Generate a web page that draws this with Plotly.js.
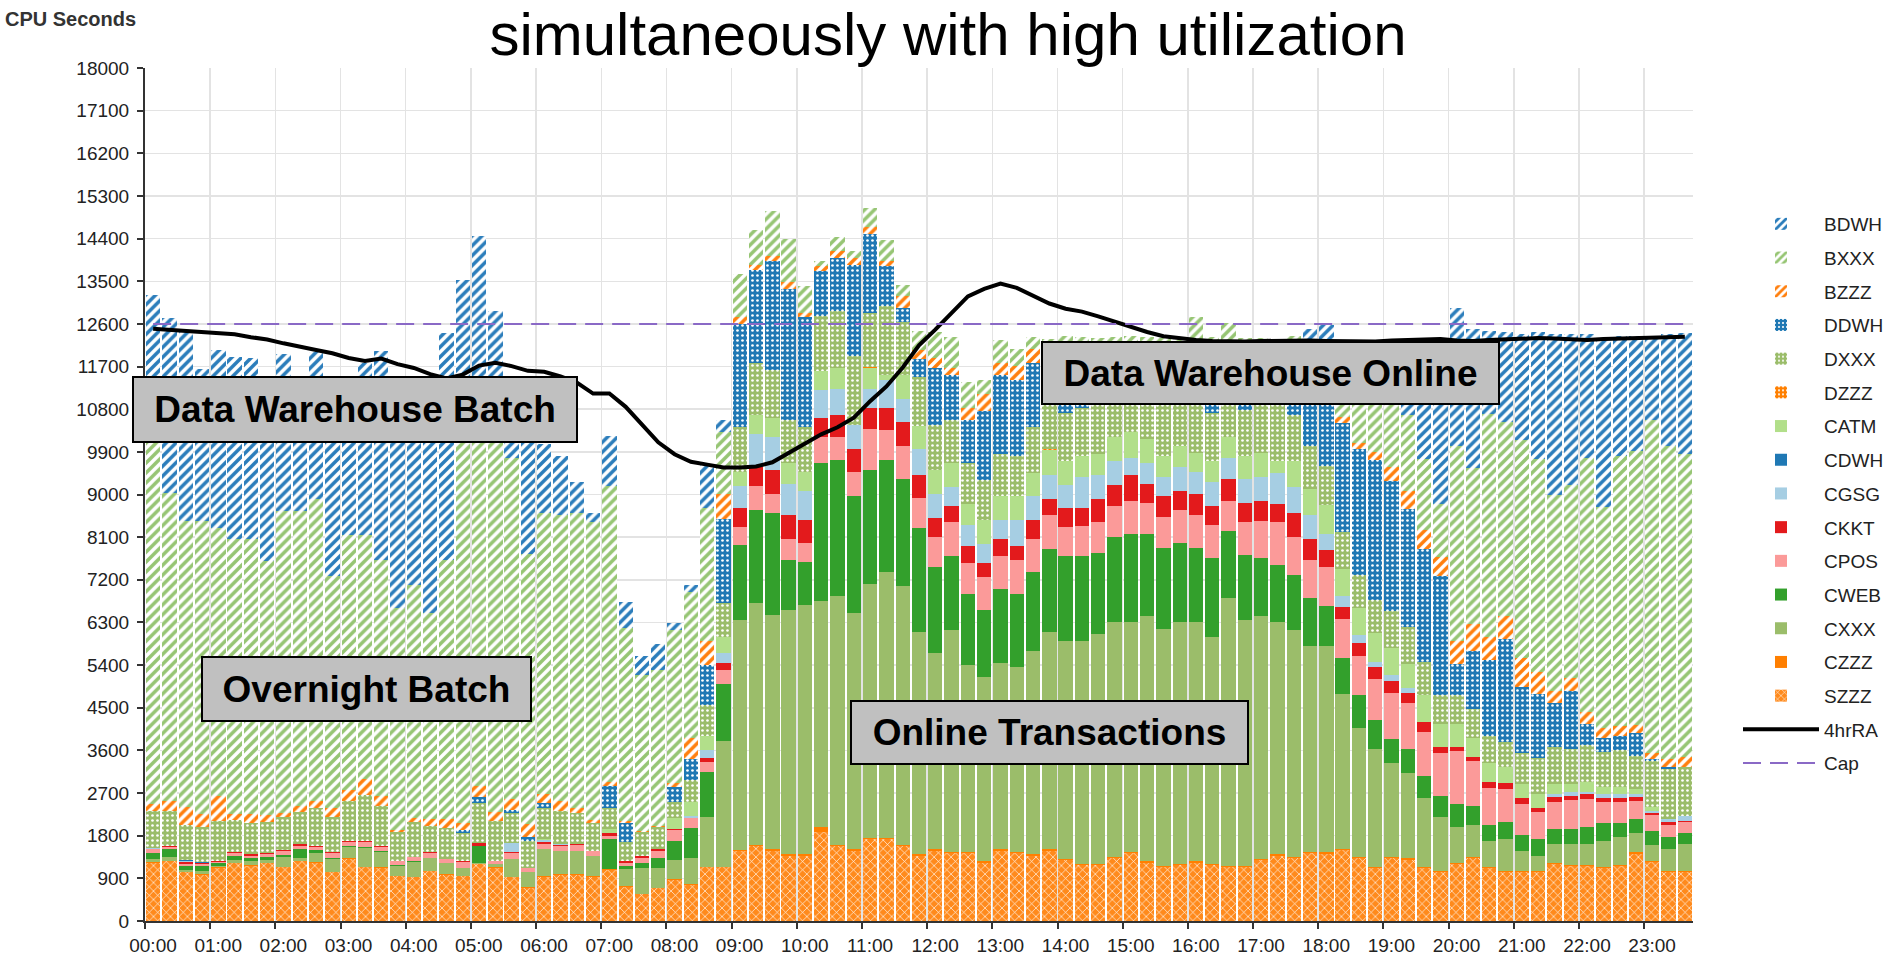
<!DOCTYPE html>
<html>
<head>
<meta charset="utf-8">
<script src="https://cdn.plot.ly/plotly-3.0.1.min.js"></script>
<style>
html,body{margin:0;padding:0;background:#ffffff;}
#chart{width:1891px;height:959px;}
</style>
</head>
<body>
<div id="chart"></div>
<script>
// ---- categories (15-minute slots) ----
const timeSlots = [
"00:00","00:15","00:30","00:45","01:00","01:15","01:30","01:45","02:00","02:15","02:30","02:45",
"03:00","03:15","03:30","03:45","04:00","04:15","04:30","04:45","05:00","05:15","05:30","05:45",
"06:00","06:15","06:30","06:45","07:00","07:15","07:30","07:45","08:00","08:15","08:30","08:45",
"09:00","09:15","09:30","09:45","10:00","10:15","10:30","10:45","11:00","11:15","11:30","11:45",
"12:00","12:15","12:30","12:45","13:00","13:15","13:30","13:45","14:00","14:15","14:30","14:45",
"15:00","15:15","15:30","15:45","16:00","16:15","16:30","16:45","17:00","17:15","17:30","17:45",
"18:00","18:15","18:30","18:45","19:00","19:15","19:30","19:45","20:00","20:15","20:30","20:45",
"21:00","21:15","21:30","21:45","22:00","22:15","22:30","22:45","23:00","23:15","23:30"];

const hourLabels = ["00:00","01:00","02:00","03:00","04:00","05:00","06:00","07:00","08:00","09:00","10:00","11:00",
"12:00","13:00","14:00","15:00","16:00","17:00","18:00","19:00","20:00","21:00","22:00","23:00"];

// ---- series values (CPU seconds) ----
const SZZZ = [1230,1260,1030,980,1120,1220,1170,1220,1140,1260, 1230,1030,1310,1140,1120,940,920,1050,980,940,
 1200,1120,920,700,930,980,980,930,1080,720, 570,690,870,770,1130,1130,1480,1580,1480,1380,
 1380,1880,1580,1480,1730,1730,1580,1380,1480,1430, 1430,1230,1480,1430,1380,1480,1280,1180,1180,1330,
 1430,1230,1130,1180,1230,1180,1130,1130,1280,1380, 1330,1430,1420,1500,1330,1110,1330,1290,1110,1030,
 1200,1330,1110,1030,1030,1030,1200,1160,1160,1110, 1160,1420,1240,1030,1030];
const CZZZ = [10,10,10,10,10,10,10,10,10,10, 10,10,10,10,10,10,10,10,10,10, 10,10,10,10,10,10,10,10,10,10,
 10,10,10,10,20,20,20,20,50,30, 30,100,30,50,30,30,30,30,30,30, 30,30,30,30,30,30,30,30,30,30,
 30,30,30,30,30,30,30,30,30,30, 30,30,30,30,30,30,30,30,30,30, 30,30,30,30,30,30,30,30,30,30, 30,30,30,30,30];
const CXXX = [60,80,40,60,30,60,80,60,210,60, 190,270,250,390,320,220,320,260,230,160,
 20,70,380,330,590,490,490,440,0,370, 540,420,410,540,1040,2640,4860,5110,4920,5150,
 5250,4770,5250,4980,5350,5600,5450,4690,4140,4690, 3940,3890,3940,3890,4290,4590,4590,4690,4840,4940,
 4840,5170,5000,5100,5050,4790,5650,5200,5120,4890, 4790,4340,4360,3270,2710,2490,1970,1800,1450,1140,
 750,670,540,670,410,320,390,430,430,540, 580,410,340,450,560];
const CWEB = [140,160,80,110,60,80,70,70,40,190, 60,30,20,30,30,10,10,10,0,0,
 350,0,0,0,0,0,0,0,640,70, 100,200,400,650,960,1210,1580,1960,2160,1060,
 910,2910,2860,2460,2410,2360,2260,2200,1810,1560, 1510,1410,1560,1560,1660,1760,1810,1810,1710,1810,
 1860,1740,1710,1660,1560,1660,1410,1360,1240,1210, 1160,1010,830,740,700,610,520,520,480,440,
 480,390,350,350,350,350,320,320,370,390, 300,300,280,260,240];
const CPOS = [70,60,40,50,30,70,40,50,80,70, 80,100,80,90,90,80,90,110,80,140,
 0,70,120,70,100,100,130,100,60,50, 100,150,230,200,200,300,380,500,400,450,
 400,550,500,500,860,650,700,630,650,700, 650,700,700,700,700,700,600,620,650,650,
 700,650,650,700,700,700,650,700,770,900, 800,800,830,830,830,870,960,960,910,910,
 1130,960,780,700,650,570,580,610,590,440, 440,370,350,260,220];
const CKKT = [20,10,55,15,10,15,35,15,15,45, 15,10,15,20,20,10,10,10,10,20,
 60,0,20,10,30,20,20,0,60,50, 50,55,30,0,100,150,400,400,500,500,
 500,400,450,500,450,450,500,490,400,350, 350,300,350,300,400,350,400,380,500,450,
 550,400,450,400,450,400,450,400,430,400, 500,450,350,260,260,260,260,220,220,130,
 90,90,130,130,130,90,90,90,100,90, 90,90,40,60,40];
const CGSG = [10,10,10,5,0,0,0,0,0,0, 0,0,0,0,0,0,0,0,0,0,
 0,0,190,0,40,30,0,0,0,0, 0,0,0,50,150,200,450,700,700,650,
 600,600,550,500,400,600,500,530,500,400, 450,400,400,550,500,500,500,650,500,500,
 350,450,400,500,450,500,450,500,500,650, 550,500,350,220,170,90,130,90,0,0,
 0,0,0,0,0,0,70,90,40,90, 90,70,40,70,90];
const CDWH = [0,0,15,15,0,0,0,0,0,0, 0,0,0,0,0,0,0,0,0,0, 0,0,0,0,0,0,0,0,0,0, 0,0,0,0,0,0,0,0,0,0,
 0,0,0,0,0,0,0,0,0,0, 0,0,0,0,0,0,0,0,0,0, 0,0,0,0,0,0,0,0,0,0, 0,0,0,0,0,0,0,0,0,0,
 0,0,0,0,0,0,0,0,0,0, 0,0,0,0,0];
const CATM = [10,0,0,0,0,0,0,0,0,0, 0,0,0,0,0,0,0,0,0,0,
 0,0,0,0,30,0,0,0,90,0, 0,0,220,300,300,350,300,400,400,450,
 400,400,450,0,450,100,500,490,500,500, 450,500,500,500,500,520,500,450,450,500,
 550,500,450,450,400,450,450,500,500,250, 550,550,610,570,570,610,570,520,570,480,
 480,390,390,350,300,300,220,170,220,130, 130,90,90,0,0];
const DZZZ = [0,0,0,0,0,0,0,0,0,0, 0,0,0,0,0,0,0,0,0,0, 0,0,0,0,0,0,0,0,0,0, 0,0,0,0,0,0,0,0,0,0,
 0,0,0,0,10,0,10,0,0,0, 0,10,0,0,0,30,0,0,0,0, 0,0,0,0,0,0,0,0,0,0, 0,0,0,0,0,0,0,0,0,0,
 0,0,0,0,0,0,0,0,0,0, 0,0,0,0,0];
const DXXX = [780,730,750,730,840,680,660,660,700,660, 790,750,840,980,840,610,720,560,650,590,
 840,840,630,560,650,700,650,580,450,400, 500,450,350,450,650,700,960,1110,1010,910,
 960,1160,1210,1460,1140,1460,1100,1040,960,910, 850,840,900,850,960,1330,1010,1010,1330,1280,
 1180,1230,1480,1280,1430,1010,1080,960,1330,1380, 960,910,830,780,700,700,780,780,700,610,
 610,610,570,520,650,740,780,740,780,740, 780,700,960,1040,1040];
const DDWH = [0,0,0,0,0,0,0,0,0,0, 0,0,0,0,0,0,0,0,0,70,
 140,0,80,90,100,0,0,0,450,400, 0,0,300,450,850,1790,2160,1960,2310,2760,
 2310,950,1120,1910,1660,850,300,380,1210,950, 910,1460,1660,1610,1360,300,400,350,0,0,
 0,0,0,0,0,500,0,500,0,200, 830,1480,2010,2300,2650,2960,2740,2480,2390,2520,
 650,1220,1610,2170,1390,1350,910,1220,440,300, 300,480,40,40,0];
const BZZZ = [130,220,370,280,530,130,190,150,90,140, 160,190,230,330,210,50,90,140,190,140,
 230,190,230,280,200,200,100,70,100,50, 30,30,100,450,500,520,150,100,100,150,
 100,100,140,150,150,100,250,180,200,150, 250,350,250,300,300,100,120,130,150,150,
 150,150,150,150,150,150,150,150,150,150, 150,150,150,130,130,170,300,390,390,390,
 480,570,480,480,610,480,260,260,260,220, 220,170,130,170,220];
const BXXX = [7940,6500,6050,6190,5670,5790,5810,5370,6360,6220, 6360,4890,5390,5160,4980,4670,4930,4350,5470,8240,
 7550,8010,7200,5700,5930,6030,6230,6280,6230,4070, 3290,3290,3220,3070,2810,1310,910,750,960,910,
 550,100,300,150,400,450,250,420,550,650, 550,300,500,350,250,600,1110,1030,970,690,
 700,780,850,850,1300,960,1170,880,950,850, 700,350,400,870,1230,1110,1310,1590,1500,1120,
 4130,3300,4700,4090,4610,4480,4130,4090,5350,4650, 5700,5780,7040,6610,6390];
const BDWH = [2820,3680,4030,3200,3740,3850,3820,3610,3330,2600, 3120,4030,2850,3620,4400,4560,4200,4500,4780,3210,
 4050,2560,1130,2940,1460,1260,650,200,1060,550, 400,550,150,150,930,250,0,0,0,0,
 0,0,0,0,0,0,0,0,0,0, 0,0,0,0,0,0,0,0,0,0,
 0,0,0,0,0,0,0,0,0,0, 0,500,400,400,500,800,1000,1340,2360,3400,
 2900,2930,1770,1900,2220,2680,3400,3180,2610,3580, 2520,2440,1760,2360,2550];

// 4-hour rolling average line
const RA4 = [12500,12480,12450,12420,12410,12380,12320,12270,12190,12110, 12050,11980,11880,11820,11870,11750,11670,11540,11450,11530,
 11720,11780,11710,11610,11590,11490,11360,11130,11130,10850, 10460,10100,9850,9690,9630,9570,9570,9590,9680,9870,
 10070,10270,10420,10620,10970,11280,11680,12150,12480,12840, 13180,13340,13450,13360,13200,13030,12920,12860,12760,12650,
 12530,12430,12340,12290,12260,12240,12230,12230,12240,12250, 12260,12250,12240,12230,12220,12230,12250,12260,12270,12280,
 12250,12240,12260,12280,12290,12300,12290,12270,12260,12280, 12290,12300,12300,12310,12330];
const capValue = 12600;

// legend order (top to bottom)
const legendOrder = ['BDWH','BXXX','BZZZ','DDWH','DXXX','DZZZ','CATM','CDWH','CGSG','CKKT','CPOS','CWEB','CXXX','CZZZ','SZZZ','4hrRA','Cap'];

// ---- build traces ----
const xIdx = timeSlots.map((_, i) => i);

function hatch(color){ return {shape:'/', fgcolor:color, bgcolor:'#ffffff', size:7, solidity:0.5, fillmode:'replace'}; }
function dots(color){ return {shape:'.', fgcolor:'#ffffff', bgcolor:color, size:5, solidity:0.22, fillmode:'replace'}; }
function cross(color){ return {shape:'x', fgcolor:'#ffffff', bgcolor:color, size:6, solidity:0.2, fillmode:'replace'}; }

// bottom of stack first
const barSeries = [
  {name:'SZZZ', y:SZZZ, color:'#ff8a1c', pattern:cross('#ff8a1c')},
  {name:'CZZZ', y:CZZZ, color:'#ff7f00'},
  {name:'CXXX', y:CXXX, color:'#9bbd6a'},
  {name:'CWEB', y:CWEB, color:'#33a02c'},
  {name:'CPOS', y:CPOS, color:'#fb9a99'},
  {name:'CKKT', y:CKKT, color:'#e31a1c'},
  {name:'CGSG', y:CGSG, color:'#a6cee3'},
  {name:'CDWH', y:CDWH, color:'#1f78b4'},
  {name:'CATM', y:CATM, color:'#b2df8a'},
  {name:'DZZZ', y:DZZZ, color:'#ff7f00', pattern:dots('#ff7f00')},
  {name:'DXXX', y:DXXX, color:'#9bbd6a', pattern:dots('#9bbd6a')},
  {name:'DDWH', y:DDWH, color:'#1f78b4', pattern:dots('#1f78b4')},
  {name:'BZZZ', y:BZZZ, color:'#ff7f0e', pattern:hatch('#ff7f0e')},
  {name:'BXXX', y:BXXX, color:'#96c573', pattern:hatch('#96c573')},
  {name:'BDWH', y:BDWH, color:'#2b7dbb', pattern:hatch('#2b7dbb')}
];

const traces = [];
barSeries.forEach(s => {
  const m = {color:s.color, line:{width:0}};
  if (s.pattern) m.pattern = s.pattern;
  traces.push({type:'bar', name:s.name, legendgroup:s.name, legendrank:legendOrder.indexOf(s.name)+1,
               x:xIdx, y:s.y, marker:m});
});
traces.push({
  type:'scatter', mode:'lines', name:'4hrRA', legendgroup:'4hrRA', legendrank:legendOrder.indexOf('4hrRA')+1,
  x:xIdx, y:RA4,
  line:{color:'#000000', width:4}
});
traces.push({
  type:'scatter', mode:'lines', name:'Cap', legendgroup:'Cap', legendrank:legendOrder.indexOf('Cap')+1,
  x:xIdx, y:xIdx.map(() => capValue),
  line:{color:'#8a69c6', width:2, dash:'18px,9px'}
});

const tickPositions = hourLabels.map(h => timeSlots.indexOf(h) - 0.5);

const W = 1891, H = 959;
const mL = 145, mR = 198, mT = 68, mB = 38;
const pw = W - mL - mR, ph = H - mT - mB;
const px = v => (v - mL) / pw;
const py = v => (H - mB - v) / ph;

function box(text, cx, cy, w, h){
  return {
    xref:'paper', yref:'paper', x:px(cx), y:py(cy), xanchor:'center', yanchor:'middle',
    text:'<b>'+text+'</b>', showarrow:false,
    font:{size:37, color:'#000000', family:'Liberation Sans, Arial, sans-serif'},
    bgcolor:'#c0c0c0', bordercolor:'#000000', borderwidth:2, borderpad:4,
    width:w, height:h, align:'center', valign:'middle'
  };
}

const layout = {
  width:W, height:H,
  margin:{l:mL, r:mR, t:mT, b:mB, pad:0, autoexpand:false},
  paper_bgcolor:'#ffffff', plot_bgcolor:'#ffffff',
  barmode:'stack', bargap:0.12,
  hovermode:false,
  font:{family:'Liberation Sans, Arial, sans-serif', color:'#222222'},
  title:{
    text:'simultaneously with high utilization',
    font:{size:60, color:'#000000', family:'Liberation Sans, Arial, sans-serif'},
    xref:'container', x:948/W, xanchor:'center',
    yref:'container', y:1 - 34/H, yanchor:'middle'
  },
  xaxis:{
    range:[-0.5, 94.5], tickmode:'array', tickvals:tickPositions, ticktext:hourLabels,
    ticks:'outside', ticklen:6, tickwidth:2, tickcolor:'#333333',
    showline:true, linecolor:'#333333', linewidth:2,
    showgrid:true, gridcolor:'#e3e3e3', gridwidth:1.5, zeroline:false,
    tickfont:{size:19, color:'#222222'}, ticklabelshift:8, ticklabelstandoff:0,
    fixedrange:true, automargin:false
  },
  yaxis:{
    range:[0, 18000], tickmode:'linear', tick0:0, dtick:900, tickformat:'d',
    ticks:'outside', ticklen:6, tickwidth:2, tickcolor:'#333333',
    showline:true, linecolor:'#333333', linewidth:2,
    showgrid:true, gridcolor:'#e3e3e3', gridwidth:1.5, zeroline:false,
    tickfont:{size:19, color:'#222222'}, ticklabelstandoff:4,
    fixedrange:true, automargin:false
  },
  showlegend:true,
  legend:{
    xref:'container', yref:'container',
    x:1738/W, xanchor:'left', y:1 - 205/H, yanchor:'top',
    traceorder:'grouped', tracegroupgap:6, itemwidth:76, maxheight:740,
    font:{size:19, color:'#222222'}, bgcolor:'rgba(0,0,0,0)', borderwidth:0
  },
  annotations:[
    {xref:'paper', yref:'paper', x:px(138), y:py(19), xanchor:'right', yanchor:'middle',
     text:'<b>CPU Seconds</b>', showarrow:false, font:{size:20, color:'#333333'}},
    box('Data Warehouse Batch', 355, 409, 434, 55),
    box('Data Warehouse Online', 1270, 373, 447, 52),
    box('Overnight Batch', 366, 689, 319, 54),
    box('Online Transactions', 1049, 732, 387, 53)
  ]
};

Plotly.newPlot('chart', traces, layout, {displayModeBar:false, staticPlot:true});
</script>
</body>
</html>
